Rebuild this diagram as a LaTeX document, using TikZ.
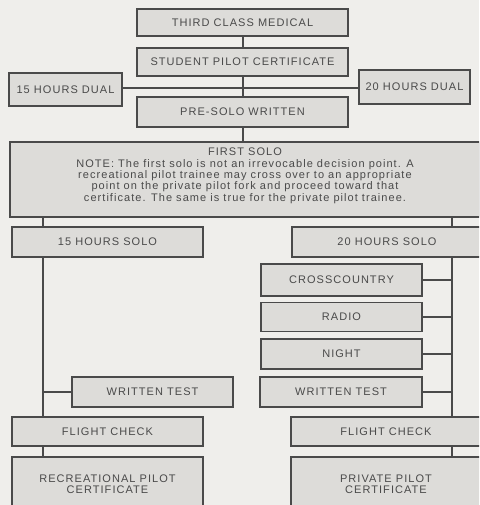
\documentclass[tikz,border=0pt]{standalone}
\usepackage{fontspec}
\setmainfont{Liberation Sans}[LetterSpace=9.5]
\definecolor{bg}{HTML}{EFEEEB}
\definecolor{boxfill}{HTML}{DDDCD9}
\definecolor{ln}{HTML}{4A4A4A}
\definecolor{tx}{HTML}{4A4A4A}
\begin{document}
\begin{tikzpicture}[x=1pt,y=-1pt,
  box/.style={draw=ln, line width=1.1pt, fill=boxfill, text=tx, inner sep=0pt, font=\fontsize{11}{11.3}\selectfont, align=center},
  conn/.style={draw=ln, line width=1.1pt}]
\fill[bg] (0,0) rectangle (479,505);
\useasboundingbox (0,0) rectangle (479,505);
\clip (0,0) rectangle (479,505);
\coordinate (xl) at (43,0);
\coordinate (xr) at (452,0);
\coordinate (xm) at (243,0);
\node[box, minimum width=211pt, minimum height=27pt] (tcm) at (242.5,22.5) {THIRD CLASS MEDICAL};
\node[box, minimum width=211pt, minimum height=28pt] (spc) at (242.5,62) {STUDENT PILOT CERTIFICATE};
\node[box, minimum width=113pt, minimum height=33pt] (d15) at (65.5,89.5) {15 HOURS DUAL};
\node[box, minimum width=111pt, minimum height=34pt] (d20) at (414.5,87) {20 HOURS DUAL};
\node[box, minimum width=211pt, minimum height=30pt] (psw) at (242.5,112) {PRE-SOLO WRITTEN};
\node[box, minimum width=470pt, minimum height=75pt] (fs) at (245,179.5) {\raisebox{0.5pt}[0pt][0pt]{\begin{tabular}{@{}c@{}}FIRST SOLO\\
NOTE: The first solo is not an irrevocable decision point. A\\
recreational pilot trainee may cross over to an appropriate\\
point on the private pilot fork and proceed toward that\\
certificate. The same is true for the private pilot trainee.\end{tabular}}};
\node[box, minimum width=191pt, minimum height=30pt] (s15) at (107.5,242) {15 HOURS SOLO};
\node[box, minimum width=190pt, minimum height=30pt] (s20) at (387,242) {20 HOURS SOLO};
\node[box, minimum width=161pt, minimum height=32pt] (cc) at (341.5,280) {CROSSCOUNTRY};
\node[box, minimum width=161pt, minimum height=29pt] (radio) at (341.5,317) {RADIO};
\node[box, minimum width=161pt, minimum height=30pt] (night) at (341.5,354) {NIGHT};
\node[box, minimum width=162pt, minimum height=30pt] (wtr) at (341,392) {WRITTEN TEST};
\node[box, minimum width=161pt, minimum height=30pt] (wtl) at (152.5,392) {WRITTEN TEST};
\node[box, minimum width=191pt, minimum height=29pt] (fcl) at (107.5,431.5) {FLIGHT CHECK};
\node[box, minimum width=190pt, minimum height=29pt] (fcr) at (386,431.5) {FLIGHT CHECK};
\node[box, minimum width=191pt, minimum height=54pt] (rpc) at (107.5,484) {RECREATIONAL PILOT\\CERTIFICATE};
\node[box, minimum width=190pt, minimum height=54pt] (ppc) at (386,484) {PRIVATE PILOT\\CERTIFICATE};
% connectors
\draw[conn] (tcm.south -| xm) -- (spc.north -| xm);
\draw[conn] (spc.south -| xm) -- (psw.north -| xm);
\coordinate (j) at (243,88);
\draw[conn] (d15.east |- j) -- (d20.west |- j);
\draw[conn] (psw.south -| xm) -- (fs.north -| xm);
\draw[conn] (fs.south -| xl) -- (s15.north -| xl);
\draw[conn] (fs.south -| xr) -- (s20.north -| xr);
\draw[conn] (s15.south -| xl) -- (fcl.north -| xl);
\draw[conn] (s20.south -| xr) -- (fcr.north -| xr);
\draw[conn] (wtl.west) -- (wtl.west -| xl);
\draw[conn] (cc.east) -- (cc.east -| xr);
\draw[conn] (radio.east) -- (radio.east -| xr);
\draw[conn] (night.east) -- (night.east -| xr);
\draw[conn] (wtr.east) -- (wtr.east -| xr);
\draw[conn] (fcl.south -| xl) -- (rpc.north -| xl);
\draw[conn] (fcr.south -| xr) -- (ppc.north -| xr);
\end{tikzpicture}
\end{document}
